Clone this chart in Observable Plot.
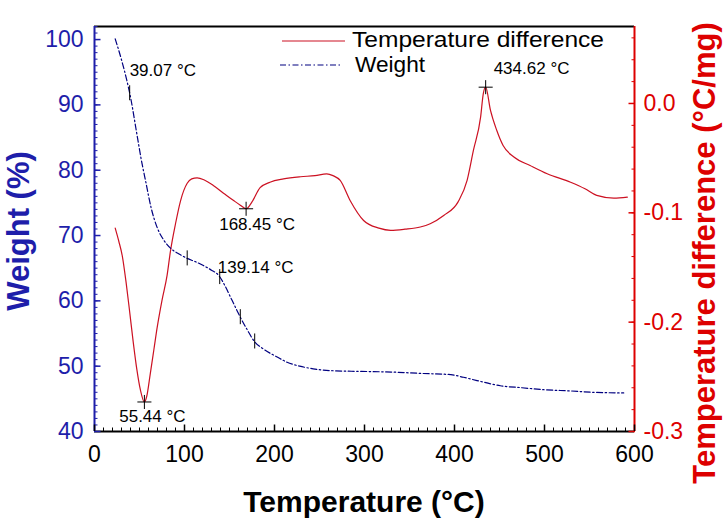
<!DOCTYPE html>
<html>
<head>
<meta charset="utf-8">
<script src="https://cdn.jsdelivr.net/npm/d3@7"></script>
<script src="https://cdn.jsdelivr.net/npm/@observablehq/plot@0.6"></script>
<style>
  html, body { margin: 0; padding: 0; background: #fff; }
  #chart { width: 728px; height: 520px; }
</style>
</head>
<body>
<div id="chart"></div>
<script>
// ---- Data ----
// Weight curve (TGA): temperature (°C) and weight (%)
const weightT = [23, 30, 36, 40, 47, 52, 57, 63, 70, 77, 85, 95, 103, 112, 121, 130, 138, 145, 151, 157, 162, 170, 177, 188, 203, 214, 228, 243, 265, 296, 330, 362, 396, 410, 425, 451, 475, 499, 530, 554, 588];
const weightV = [100.1, 96.9, 93.7, 91.2, 85.6, 81.6, 78.2, 74.2, 71.1, 69.3, 68.0, 67.1, 66.5, 66.0, 65.4, 64.7, 63.9, 62.3, 60.6, 58.9, 57.5, 55.5, 53.9, 52.6, 51.4, 50.6, 50.0, 49.6, 49.3, 49.2, 49.1, 48.9, 48.7, 48.3, 47.8, 47.0, 46.7, 46.4, 46.2, 46.0, 45.9];
// Temperature difference curve (DTA): temperature (°C) and °C/mg
const dtaT = [23, 27, 31, 35, 39, 43, 47, 51, 55.44, 58, 62, 66, 69.6, 75, 80.7, 84.4, 90, 95.6, 103, 108, 114, 122, 132, 145, 155, 162, 168.45, 175, 184, 195, 210, 229, 245, 258, 265, 273, 284, 299, 316, 329, 345, 362, 373, 388, 404, 414, 421, 429, 432, 434.62, 440, 447, 454, 466, 484, 503, 529, 545, 558, 577, 592];
const dtaV = [-0.114, -0.126, -0.140, -0.163, -0.190, -0.218, -0.243, -0.262, -0.273, -0.268, -0.247, -0.225, -0.205, -0.180, -0.157, -0.135, -0.110, -0.089, -0.073, -0.069, -0.068, -0.070, -0.075, -0.083, -0.089, -0.093, -0.0963, -0.090, -0.077, -0.072, -0.069, -0.067, -0.066, -0.0643, -0.066, -0.0704, -0.0887, -0.107, -0.114, -0.116, -0.115, -0.113, -0.110, -0.1025, -0.090, -0.0704, -0.043, -0.0125, 0.009, 0.0149, -0.0064, -0.0247, -0.0384, -0.049, -0.0567, -0.0643, -0.072, -0.078, -0.0841, -0.0866, -0.0857];
// Annotated points
const dtaMarkT = [55.44, 168.45, 434.62];
const dtaMarkLabels = ["55.44 °C", "168.45 °C", "434.62 °C"];
const weightMarkT = [39.07, 103, 139.14, 162, 178];
const weightLabelT = [39.07, 139.14];
const weightLabels = ["39.07 °C", "139.14 °C"];
// Legend entries
const legendLabels = ["Temperature difference", "Weight"];
// Axes
const xTicks = [0, 100, 200, 300, 400, 500, 600];
const weightTicks = [40, 50, 60, 70, 80, 90, 100];
const dtaTicks = [-0.3, -0.2, -0.1, 0.0];
const xDomain = [0, 600];
const weightDomain = [40, 102];
const dtaDomain = [-0.3, 0.0704];

// ---- helpers ----
const toW = d => weightDomain[0] + (d - dtaDomain[0]) * (weightDomain[1] - weightDomain[0]) / (dtaDomain[1] - dtaDomain[0]);
const fromW = w => dtaDomain[0] + (w - weightDomain[0]) * (dtaDomain[1] - dtaDomain[0]) / (weightDomain[1] - weightDomain[0]);

const weightData = weightT.map((t, i) => ({t, v: weightV[i]}));
const dtaData = dtaT.map((t, i) => ({t, v: toW(dtaV[i])}));
const interpW = t => {
  for (let i = 1; i < weightT.length; i++) {
    if (t <= weightT[i]) {
      const a = (t - weightT[i-1]) / (weightT[i] - weightT[i-1]);
      return weightV[i-1] + a * (weightV[i] - weightV[i-1]);
    }
  }
  return weightV[weightV.length - 1];
};
const dtaMarks = dtaMarkT.map((t, i) => ({t, v: toW(dtaV[dtaT.indexOf(t)]), label: dtaMarkLabels[i]}));
const weightMarks = weightMarkT.map(t => ({t, v: interpW(t)}));
const weightLabelData = weightLabelT.map((t, i) => ({t, v: interpW(t), label: weightLabels[i]}));

const BLUE = "#1e1eaa";
const RED = "#dd0000";
const LINE_RED = "#cc1122";
const NAVY = "#000080";
const FONT = "'Liberation Sans', Arial, sans-serif";
const DASH = "6,2.5,1.5,2.5";

const minorW = d3.range(40, 103, 1);
const minorD = d3.range(0, 19).map(i => toW(-0.3 + i * 0.02));
const minorX = d3.range(0, 601, 10);

const svg = Plot.plot({
  width: 728,
  height: 520,
  marginLeft: 94,
  marginRight: 94,
  marginTop: 26,
  marginBottom: 89,
  x: {domain: xDomain},
  y: {domain: weightDomain},
  style: {fontFamily: FONT, background: "white", overflow: "visible"},
  marks: [
    // curves
    Plot.line(dtaData, {x: "t", y: "v", stroke: LINE_RED, strokeWidth: 1.2, curve: "monotone-x"}),
    Plot.line(weightData, {x: "t", y: "v", stroke: NAVY, strokeWidth: 1.2, strokeDasharray: DASH, curve: "monotone-x"}),
    // markers
    Plot.dot(dtaMarks, {x: "t", y: "v", symbol: "plus", r: 4.6, stroke: "black", strokeWidth: 1}),
    Plot.ruleX(weightMarks, {x: "t", y1: d => d.v - 1.15, y2: d => d.v + 1.15, stroke: "black", strokeWidth: 1}),
    // annotations
    Plot.text(dtaMarks.slice(0, 1), {x: "t", y: "v", text: "label", dx: 8, dy: 15, fontSize: 17, fill: "black"}),
    Plot.text(dtaMarks.slice(1, 2), {x: "t", y: "v", text: "label", dx: 11, dy: 16, fontSize: 17, fill: "black"}),
    Plot.text(dtaMarks.slice(2, 3), {x: "t", y: "v", text: "label", textAnchor: "start", dx: 8, dy: -19, fontSize: 17, fill: "black"}),
    Plot.text(weightLabelData.slice(0, 1), {x: "t", y: "v", text: "label", textAnchor: "start", dx: 0, dy: -23, fontSize: 17, fill: "black"}),
    Plot.text(weightLabelData.slice(1, 2), {x: "t", y: "v", text: "label", textAnchor: "start", dx: -2, dy: -10, fontSize: 17, fill: "black"}),
    // frame lines
    Plot.ruleY([weightDomain[1]], {stroke: "black", strokeWidth: 2}),
    Plot.ruleY([weightDomain[0]], {stroke: "black", strokeWidth: 2}),
    Plot.ruleX([xDomain[0]], {stroke: BLUE, strokeWidth: 2}),
    Plot.ruleX([xDomain[1]], {stroke: RED, strokeWidth: 2}),
    // left axis (weight)
    Plot.axisY({anchor: "left", ticks: minorW, tickSize: -3.5, text: null, stroke: BLUE, label: null}),
    Plot.axisY({anchor: "left", ticks: weightTicks, tickSize: -6.5, text: null, stroke: BLUE, strokeWidth: 1.5, label: null}),
    Plot.axisY({anchor: "left", ticks: weightTicks, tickSize: 0, tickPadding: 11, fill: BLUE, fontSize: 23, label: null, fontFamily: FONT}),
    // right axis (temperature difference)
    Plot.axisY({anchor: "right", ticks: minorD, tickSize: -3.5, text: null, stroke: RED, label: null}),
    Plot.axisY({anchor: "right", ticks: dtaTicks.map(toW), tickSize: -6.5, text: null, stroke: RED, strokeWidth: 1.5, label: null}),
    Plot.axisY({anchor: "right", ticks: dtaTicks.map(toW), tickFormat: w => fromW(w).toFixed(1), tickSize: 0, tickPadding: 9, fill: RED, fontSize: 23, label: null, fontFamily: FONT}),
    // bottom axis (temperature)
    Plot.axisX({anchor: "bottom", ticks: minorX, tickSize: -3.5, text: null, stroke: "black", label: null}),
    Plot.axisX({anchor: "bottom", ticks: xTicks, tickSize: -6.5, text: null, stroke: "black", strokeWidth: 1.5, label: null}),
    Plot.axisX({anchor: "bottom", ticks: xTicks, tickSize: 0, tickPadding: 14, fill: "black", fontSize: 23, label: null, fontFamily: FONT})
  ]
});

const s = d3.select(svg);
// axis titles
s.append("text")
  .attr("transform", "translate(364,512)")
  .attr("text-anchor", "middle")
  .attr("font-family", FONT).attr("font-weight", "bold").attr("font-size", 30)
  .attr("fill", "black")
  .text("Temperature (°C)");
s.append("text")
  .attr("transform", "translate(29,231) rotate(-90)")
  .attr("text-anchor", "middle")
  .attr("font-family", FONT).attr("font-weight", "bold").attr("font-size", 31)
  .attr("fill", BLUE)
  .text("Weight (%)");
s.append("text")
  .attr("transform", "translate(715,253) rotate(-90)")
  .attr("text-anchor", "middle")
  .attr("font-family", FONT).attr("font-weight", "bold").attr("font-size", 31)
  .attr("fill", RED)
  .text("Temperature difference (°C/mg)");
// legend
const lg = s.append("g").attr("text-anchor", "start");
lg.append("line").attr("x1", 282).attr("x2", 345).attr("y1", 41).attr("y2", 41)
  .attr("stroke", LINE_RED).attr("stroke-width", 1.2);
lg.append("line").attr("x1", 280).attr("x2", 340).attr("y1", 65).attr("y2", 65)
  .attr("stroke", NAVY).attr("stroke-width", 1.2).attr("stroke-dasharray", DASH);
lg.append("text").attr("x", 352).attr("y", 47).attr("text-anchor", "start")
  .attr("font-family", FONT).attr("font-size", 22)
  .attr("textLength", 252).attr("lengthAdjust", "spacingAndGlyphs")
  .attr("fill", "black").text(legendLabels[0]);
lg.append("text").attr("x", 355).attr("y", 72).attr("text-anchor", "start")
  .attr("font-family", FONT).attr("font-size", 22)
  .attr("textLength", 70).attr("lengthAdjust", "spacingAndGlyphs")
  .attr("fill", "black").text(legendLabels[1]);

document.getElementById("chart").appendChild(svg);
</script>
</body>
</html>
